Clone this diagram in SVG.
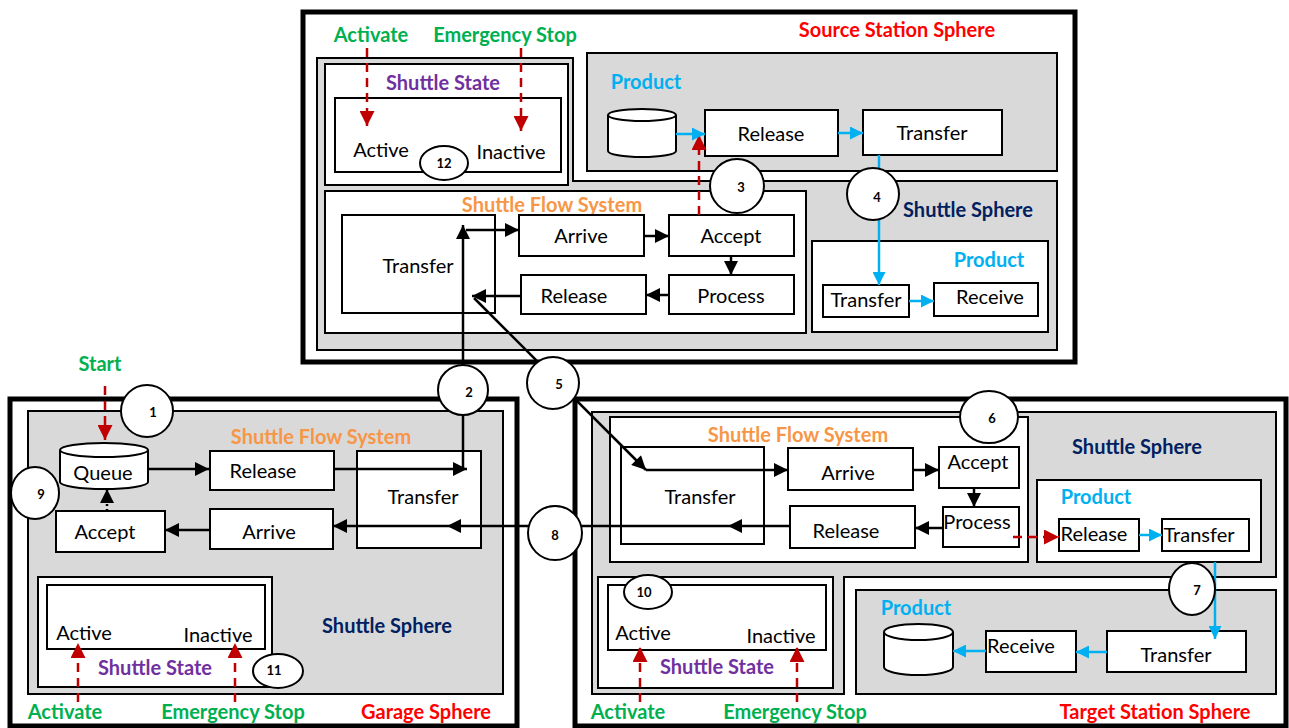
<svg xmlns="http://www.w3.org/2000/svg" width="1289" height="728" viewBox="0 0 1289 728">
<defs>
<style>
.sph{fill:none;stroke:#000;stroke-width:5}
.gray{fill:#d9d9d9;stroke:#000;stroke-width:2}
.box{fill:#fff;stroke:#000;stroke-width:2}
.circ{fill:#fff;stroke:#000;stroke-width:2}
.t{font-family:Lato,"Liberation Sans",sans-serif;font-size:20px;text-anchor:middle;fill:#000}
.h{font-family:Lato,"Liberation Sans",sans-serif;font-size:20px;font-weight:bold;text-anchor:middle}
.n{font-family:Lato,"Liberation Sans",sans-serif;font-size:13px;font-weight:bold;text-anchor:middle}
.green{fill:#00b050}.red{fill:#ff0000}.purple{fill:#7030a0}.cyan{fill:#00b0f0}.navy{fill:#002060}.orange{fill:#f79646}
.blk{fill:none;stroke:#000;stroke-width:2.5;marker-end:url(#ab)}
.blu{fill:none;stroke:#00b0f0;stroke-width:2.5;marker-end:url(#abl)}
.rd{fill:none;stroke:#c00000;stroke-width:2.5;stroke-dasharray:9 6;marker-end:url(#ar)}
.plain{fill:none;stroke:#000;stroke-width:2.5}
</style>
<marker id="ab" viewBox="0 0 10 10" refX="10" refY="5" markerWidth="15" markerHeight="14" markerUnits="userSpaceOnUse" orient="auto"><path d="M0,0 L10,5 L0,10 z" fill="#000"/></marker>
<marker id="abl" viewBox="0 0 10 10" refX="10" refY="5" markerWidth="13" markerHeight="13" markerUnits="userSpaceOnUse" orient="auto"><path d="M0,0 L10,5 L0,10 z" fill="#00b0f0"/></marker>
<marker id="ar" viewBox="0 0 10 10" refX="10" refY="5" markerWidth="15" markerHeight="15" markerUnits="userSpaceOnUse" orient="auto"><path d="M0,0 L10,5 L0,10 z" fill="#c00000"/></marker>
</defs>
<rect width="1289" height="728" fill="#fff"/>

<!-- ===== Source Station Sphere ===== -->
<g id="source-station">
<rect class="sph" x="303" y="12" width="772" height="350"/>
<path class="gray" d="M317,58 H573 V181 H1057 V350 H317 Z"/>
<rect class="gray" x="587" y="53" width="470" height="118"/>
<text class="h red" x="897" y="37">Source Station Sphere</text>
</g>
<g id="source-shuttle-state">
<rect class="box" x="325" y="64" width="243" height="121"/>
<rect class="box" x="335" y="98" width="226" height="74"/>
<text class="h purple" x="443" y="90">Shuttle State</text>
<text class="t" x="381" y="157">Active</text>
<text class="t" x="511" y="159">Inactive</text>
<text class="h green" x="371" y="42">Activate</text>
<text class="h green" x="505" y="42">Emergency Stop</text>
</g>
<g id="source-product">
<text class="h cyan" x="646" y="89">Product</text>
<path d="M608,115 V151 A34,6 0 0 0 676,151 V115" fill="#fff" stroke="#000" stroke-width="2"/>
<ellipse cx="642" cy="115" rx="34" ry="6" fill="#fff" stroke="#000" stroke-width="2"/>
<rect class="box" x="705" y="110" width="133" height="46"/>
<text class="t" x="771" y="141">Release</text>
<rect class="box" x="863" y="110" width="139" height="45"/>
<text class="t" x="932" y="140">Transfer</text>
</g>
<g id="source-flow">
<rect class="box" x="325" y="191" width="481" height="142"/>
<text class="h orange" x="552" y="212">Shuttle Flow System</text>
<rect class="box" x="342" y="215" width="153" height="98"/>
<text class="t" x="418" y="273">Transfer</text>
<rect class="box" x="519" y="215" width="125" height="41"/>
<text class="t" x="581" y="243">Arrive</text>
<rect class="box" x="669" y="215" width="125" height="41"/>
<text class="t" x="731" y="243">Accept</text>
<rect class="box" x="521" y="275" width="125" height="39"/>
<text class="t" x="574" y="303">Release</text>
<rect class="box" x="669" y="275" width="125" height="39"/>
<text class="t" x="731" y="303">Process</text>
</g>
<g id="source-shuttle-product">
<text class="h navy" x="968" y="217">Shuttle Sphere</text>
<rect class="box" x="812" y="241" width="236" height="91"/>
<text class="h cyan" x="989" y="267">Product</text>
<rect class="box" x="823" y="285" width="86" height="32"/>
<text class="t" x="866" y="307">Transfer</text>
<rect class="box" x="934" y="283" width="104" height="33"/>
<text class="t" x="990" y="304">Receive</text>
</g>

<!-- ===== Garage Sphere ===== -->
<g id="garage">
<rect class="sph" x="10" y="399" width="507" height="327"/>
<rect class="gray" x="28" y="411" width="475" height="283"/>
<text class="h orange" x="321" y="444">Shuttle Flow System</text>
<text class="h navy" x="387" y="633">Shuttle Sphere</text>
<text class="h red" x="426" y="719">Garage Sphere</text>
<text class="h green" x="100" y="371">Start</text>
</g>
<g id="garage-flow">
<path d="M60,450 V482 A44,7 0 0 0 148,482 V450" fill="#fff" stroke="#000" stroke-width="2"/>
<ellipse cx="104" cy="450" rx="44" ry="7" fill="#fff" stroke="#000" stroke-width="2"/>
<text class="t" x="103" y="480">Queue</text>
<rect class="box" x="210" y="451" width="124" height="39"/>
<text class="t" x="263" y="478">Release</text>
<rect class="box" x="357" y="451" width="124" height="97"/>
<text class="t" x="423" y="504">Transfer</text>
<rect class="box" x="56" y="511" width="109" height="41"/>
<text class="t" x="105" y="539">Accept</text>
<rect class="box" x="210" y="509" width="123" height="40"/>
<text class="t" x="269" y="539">Arrive</text>
</g>
<g id="garage-shuttle-state">
<rect class="box" x="38" y="577" width="234" height="110"/>
<rect class="box" x="47" y="585" width="218" height="64"/>
<text class="t" x="84" y="640">Active</text>
<text class="t" x="218" y="642">Inactive</text>
<text class="h purple" x="155" y="675">Shuttle State</text>
<text class="h green" x="65" y="719">Activate</text>
<text class="h green" x="233" y="719">Emergency Stop</text>
</g>

<!-- ===== Target Station Sphere ===== -->
<g id="target-station">
<rect class="sph" x="575" y="399" width="711" height="327"/>
<path class="gray" d="M592,412 H1276 V577 H844 V694 H592 Z"/>
<rect class="gray" x="856" y="590" width="420" height="104"/>
<text class="h navy" x="1137" y="454">Shuttle Sphere</text>
<text class="h red" x="1155" y="719">Target Station Sphere</text>
</g>
<g id="target-flow">
<rect class="box" x="610" y="417" width="418" height="145"/>
<text class="h orange" x="798" y="442">Shuttle Flow System</text>
<rect class="box" x="621" y="447" width="143" height="97"/>
<text class="t" x="700" y="504">Transfer</text>
<rect class="box" x="788" y="448" width="125" height="42"/>
<text class="t" x="848" y="480">Arrive</text>
<rect class="box" x="939" y="447" width="80" height="41"/>
<text class="t" x="978" y="469">Accept</text>
<rect class="box" x="943" y="507" width="76" height="40"/>
<text class="t" x="977" y="529">Process</text>
<rect class="box" x="790" y="506" width="125" height="42"/>
<text class="t" x="846" y="538">Release</text>
</g>
<g id="target-shuttle-product">
<rect class="box" x="1037" y="480" width="224" height="82"/>
<text class="h cyan" x="1096" y="504">Product</text>
<rect class="box" x="1059" y="519" width="80" height="32"/>
<text class="t" x="1094" y="541">Release</text>
<rect class="box" x="1162" y="519" width="87" height="32"/>
<text class="t" x="1199" y="542">Transfer</text>
</g>
<g id="target-product">
<text class="h cyan" x="916" y="615">Product</text>
<path d="M884,632 V667 A34.5,8 0 0 0 953,667 V632" fill="#fff" stroke="#000" stroke-width="2"/>
<ellipse cx="918.5" cy="632" rx="34.5" ry="8" fill="#fff" stroke="#000" stroke-width="2"/>
<rect class="box" x="986" y="631" width="90" height="41"/>
<text class="t" x="1021" y="653">Receive</text>
<rect class="box" x="1107" y="631" width="139" height="41"/>
<text class="t" x="1176" y="662">Transfer</text>
</g>
<g id="target-shuttle-state">
<rect class="box" x="598" y="577" width="235" height="111"/>
<rect class="box" x="608" y="585" width="218" height="65"/>
<text class="t" x="643" y="640">Active</text>
<text class="t" x="781" y="643">Inactive</text>
<text class="h purple" x="717" y="674">Shuttle State</text>
<text class="h green" x="628" y="719">Activate</text>
<text class="h green" x="795" y="719">Emergency Stop</text>
</g>

<!-- ===== Connectors ===== -->
<g id="connectors">
<path class="rd" d="M367,48 V126"/>
<path class="rd" d="M521,48 V131"/>
<path class="blk" d="M644,236 H669"/>
<path class="blk" d="M731,256 V275"/>
<path class="blk" d="M669,295 H646"/>
<path class="blk" d="M521,296 H472"/>
<path class="blk" d="M466,230 H519"/>
<path class="rd" d="M699,215 V135"/>
<path class="blu" d="M676,134 H705"/>
<path class="blu" d="M838,133 H863"/>
<path class="blu" d="M879,155 V285"/>
<path class="blu" d="M909,301 H934"/>
<path class="rd" d="M105,386 V440"/>
<path class="blk" d="M149,469 H209"/>
<path class="blk" d="M334,469 H467"/>
<path class="plain" d="M463,469 V390"/>
<path class="blk" d="M463,390 V225"/>
<path class="blk" d="M209,530 H165"/>
<path d="M107,511 V489" fill="none" stroke="#000" stroke-width="2.5" stroke-dasharray="2 3" marker-end="url(#ab)"/>
<path class="rd" d="M78,702 V643"/>
<path class="rd" d="M235,702 V643"/>
<path class="blk" d="M474,298 L646,470"/>
<path class="blk" d="M646,470 H788"/>
<path class="blk" d="M913,470 H939"/>
<path class="blk" d="M974,488 V507"/>
<path class="blk" d="M943,528 H915"/>
<path class="blk" d="M790,526 H728"/>
<path class="blk" d="M728,526 H447"/>
<path class="blk" d="M447,526 H333"/>
<path class="rd" d="M1013,537 H1059"/>
<path class="blu" d="M1139,535 H1162"/>
<path class="blu" d="M1215,562 V639"/>
<path class="blu" d="M1107,652 H1076"/>
<path class="blu" d="M986,651 H953"/>
<path class="rd" d="M640,702 V647"/>
<path class="rd" d="M797,702 V647"/>
</g>

<!-- ===== Numbered markers ===== -->
<g id="n1"><circle class="circ" cx="147" cy="411" r="26"/><text class="n" x="153" y="417">1</text></g>
<g id="n2"><circle class="circ" cx="463" cy="390" r="25"/><text class="n" x="469" y="397">2</text></g>
<g id="n3"><circle class="circ" cx="737" cy="186" r="27"/><text class="n" x="741" y="192">3</text></g>
<g id="n4"><circle class="circ" cx="873" cy="194" r="26"/><text class="n" x="877" y="202">4</text></g>
<g id="n5"><circle class="circ" cx="553" cy="383" r="26"/><text class="n" x="559" y="389">5</text></g>
<g id="n6"><ellipse class="circ" cx="989" cy="417" rx="29" ry="26"/><text class="n" x="992" y="423">6</text></g>
<g id="n7"><ellipse class="circ" cx="1192" cy="589" rx="23" ry="26"/><text class="n" x="1197" y="595">7</text></g>
<g id="n8"><circle class="circ" cx="555" cy="533" r="27"/><text class="n" x="555" y="540">8</text></g>
<g id="n9"><ellipse class="circ" cx="35" cy="493" rx="24" ry="26"/><text class="n" x="41" y="499">9</text></g>
<g id="n10"><ellipse class="circ" cx="648" cy="592" rx="24" ry="17"/><text class="n" x="644" y="597">10</text></g>
<g id="n11"><ellipse class="circ" cx="278" cy="671" rx="25" ry="17"/><text class="n" x="274" y="675">11</text></g>
<g id="n12"><ellipse class="circ" cx="444" cy="163" rx="24" ry="17"/><text class="n" x="444" y="168">12</text></g>
</svg>
